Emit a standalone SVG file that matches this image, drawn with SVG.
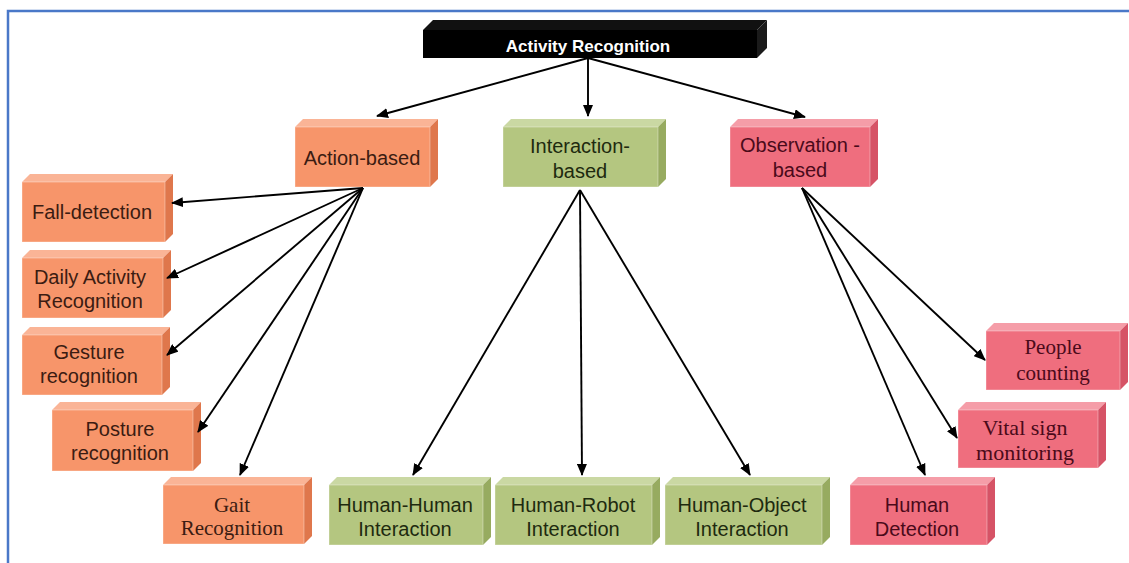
<svg xmlns="http://www.w3.org/2000/svg" width="1129" height="563" viewBox="0 0 1129 563">
<style>
.o .f{fill:#F7956A}.o .t{fill:#FAB496}.o .s{fill:#DF774C}
.g .f{fill:#B4C680}.g .t{fill:#CAD8A3}.g .s{fill:#97AB60}
.p .f{fill:#EF6E7E}.p .t{fill:#F59DA8}.p .s{fill:#D65366}
.f{stroke:#ffffff;stroke-opacity:0.35;stroke-width:1}
text{text-anchor:middle}
.sans{font-family:"Liberation Sans",Arial,sans-serif;font-size:20px}
.serif{font-family:"Liberation Serif","Times New Roman",serif;font-size:21px}
.o text{fill:#3B1C12}.g text{fill:#1E2A0F}.p text{fill:#4A0A1A}
.conn line{stroke:#000;stroke-width:1.9;marker-end:url(#ah)}
</style>
<defs>
<marker id="ah" markerUnits="userSpaceOnUse" markerWidth="12" markerHeight="10" refX="11" refY="5" orient="auto">
<path d="M0,0 L12,5 L0,10 z" fill="#000"/>
</marker>
</defs>
<rect x="0" y="0" width="1129" height="563" fill="#ffffff"/>
<rect x="8" y="11" width="1130" height="560" fill="none" stroke="#4A78C8" stroke-width="2.5"/>

<g id="root">
<polygon points="423,30 433,20 767,20 757,30" fill="#111"/>
<polygon points="757,30 767,20 767,48 757,58" fill="#1a1a1a"/>
<rect x="423" y="30" width="334" height="28" fill="#000"/>
<text x="588" y="52" style="font-family:'Liberation Sans',Arial,sans-serif;font-size:17px;font-weight:bold;fill:#fff">Activity Recognition</text>
</g>

<g id="action" class="o">
<polygon class="t" points="295,127 303,119 438,119 430,127"/>
<polygon class="s" points="430,127 438,119 438,179 430,187"/>
<rect class="f" x="295" y="127" width="135" height="60"/>
<text class="sans" x="362" y="165">Action-based</text>
</g>

<g id="interaction" class="g">
<polygon class="t" points="503,127 511,119 666,119 658,127"/>
<polygon class="s" points="658,127 666,119 666,179 658,187"/>
<rect class="f" x="503" y="127" width="155" height="60"/>
<text class="sans" x="580" y="153">Interaction-</text>
<text class="sans" x="580" y="178">based</text>
</g>

<g id="observation" class="p">
<polygon class="t" points="730,127 738,119 878,119 870,127"/>
<polygon class="s" points="870,127 878,119 878,179 870,187"/>
<rect class="f" x="730" y="127" width="140" height="60"/>
<text class="sans" x="800" y="152">Observation -</text>
<text class="sans" x="800" y="177">based</text>
</g>

<g id="fall" class="o">
<polygon class="t" points="22,182 30,174 173,174 165,182"/>
<polygon class="s" points="165,182 173,174 173,234 165,242"/>
<rect class="f" x="22" y="182" width="143" height="60"/>
<text class="sans" x="92" y="219">Fall-detection</text>
</g>

<g id="daily" class="o">
<polygon class="t" points="22,258 30,250 171,250 163,258"/>
<polygon class="s" points="163,258 171,250 171,310 163,318"/>
<rect class="f" x="22" y="258" width="141" height="60"/>
<text class="sans" x="90" y="284">Daily Activity</text>
<text class="sans" x="90" y="308">Recognition</text>
</g>

<g id="gesture" class="o">
<polygon class="t" points="22,335 30,327 170,327 162,335"/>
<polygon class="s" points="162,335 170,327 170,387 162,395"/>
<rect class="f" x="22" y="335" width="140" height="60"/>
<text class="sans" x="89" y="359">Gesture</text>
<text class="sans" x="89" y="383">recognition</text>
</g>

<g id="posture" class="o">
<polygon class="t" points="52,410 60,402 201,402 193,410"/>
<polygon class="s" points="193,410 201,402 201,463 193,471"/>
<rect class="f" x="52" y="410" width="141" height="61"/>
<text class="sans" x="120" y="436">Posture</text>
<text class="sans" x="120" y="460">recognition</text>
</g>

<g id="gait" class="o">
<polygon class="t" points="163,485 171,477 312,477 304,485"/>
<polygon class="s" points="304,485 312,477 312,536 304,544"/>
<rect class="f" x="163" y="485" width="141" height="59"/>
<text class="serif" x="232" y="512">Gait</text>
<text class="serif" x="232" y="535">Recognition</text>
</g>

<g id="hh" class="g">
<polygon class="t" points="329,485 337,477 491,477 483,485"/>
<polygon class="s" points="483,485 491,477 491,537 483,545"/>
<rect class="f" x="329" y="485" width="154" height="60"/>
<text class="sans" x="405" y="512">Human-Human</text>
<text class="sans" x="405" y="536">Interaction</text>
</g>

<g id="hr" class="g">
<polygon class="t" points="495,485 503,477 660,477 652,485"/>
<polygon class="s" points="652,485 660,477 660,537 652,545"/>
<rect class="f" x="495" y="485" width="157" height="60"/>
<text class="sans" x="573" y="512">Human-Robot</text>
<text class="sans" x="573" y="536">Interaction</text>
</g>

<g id="ho" class="g">
<polygon class="t" points="665,485 673,477 830,477 822,485"/>
<polygon class="s" points="822,485 830,477 830,537 822,545"/>
<rect class="f" x="665" y="485" width="157" height="60"/>
<text class="sans" x="742" y="512">Human-Object</text>
<text class="sans" x="742" y="536">Interaction</text>
</g>

<g id="hd" class="p">
<polygon class="t" points="850,485 858,477 995,477 987,485"/>
<polygon class="s" points="987,485 995,477 995,537 987,545"/>
<rect class="f" x="850" y="485" width="137" height="60"/>
<text class="sans" x="917" y="512">Human</text>
<text class="sans" x="917" y="536">Detection</text>
</g>

<g id="people" class="p">
<polygon class="t" points="986,331 994,323 1128,323 1120,331"/>
<polygon class="s" points="1120,331 1128,323 1128,382 1120,390"/>
<rect class="f" x="986" y="331" width="134" height="59"/>
<text class="serif" x="1053" y="354">People</text>
<text class="serif" x="1053" y="380">counting</text>
</g>

<g id="vital" class="p">
<polygon class="t" points="958,410 966,402 1106,402 1098,410"/>
<polygon class="s" points="1098,410 1106,402 1106,460 1098,468"/>
<rect class="f" x="958" y="410" width="140" height="58"/>
<text class="serif" x="1025" y="435" style="font-size:22px">Vital sign</text>
<text class="serif" x="1025" y="460" style="font-size:22px">monitoring</text>
</g>

<g id="connectors" class="conn">
<line x1="588" y1="58" x2="377" y2="116"/>
<line x1="588" y1="58" x2="588" y2="116"/>
<line x1="588" y1="58" x2="805" y2="117"/>
<line x1="363" y1="188" x2="172" y2="203"/>
<line x1="363" y1="188" x2="167" y2="278"/>
<line x1="363" y1="188" x2="167" y2="355"/>
<line x1="363" y1="188" x2="198" y2="432"/>
<line x1="363" y1="188" x2="240" y2="475"/>
<line x1="580" y1="190" x2="413" y2="475"/>
<line x1="580" y1="190" x2="582" y2="475"/>
<line x1="580" y1="190" x2="750" y2="475"/>
<line x1="802" y1="188" x2="985" y2="360"/>
<line x1="802" y1="188" x2="957" y2="438"/>
<line x1="802" y1="188" x2="925" y2="475"/>
</g>
</svg>
